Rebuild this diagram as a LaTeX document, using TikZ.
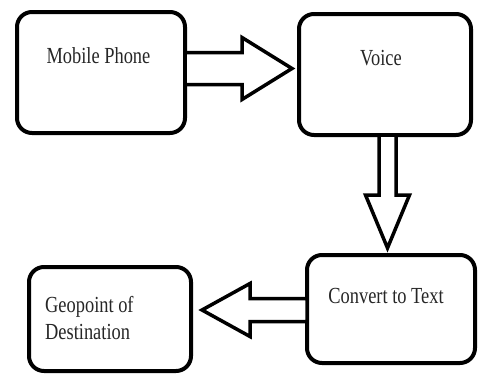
\documentclass[tikz,border=0pt]{standalone}
\usepackage{fontspec}
\setmainfont{Liberation Serif}
\newfontfamily\lblfont{Liberation Serif}[FakeStretch=0.8]
\usetikzlibrary{calc}
\begin{document}
\begin{tikzpicture}[x=1pt,y=-1pt,
  box/.style={draw, line width=4pt, rounded corners=15pt, outer sep=0pt, inner sep=0pt},
  blockarrow/.style={draw, line width=3.5pt, fill=white, line join=miter},
  lbl/.style={font=\lblfont\fontsize{23}{28}\selectfont, text=black!85, inner sep=0pt, anchor=base}]
\useasboundingbox (0,0) rectangle (480,375);
\node[box, minimum width=168pt, minimum height=121pt] (mp) at (101,72.5) {};
\node[box, minimum width=172pt, minimum height=121pt] (voice) at (385,74.5) {};
\node[box, minimum width=168pt, minimum height=108pt] (cvt) at (391,309) {};
\node[box, minimum width=162pt, minimum height=104pt] (geo) at (110,319) {};
\node[lbl] (mpt) at (98.5,63) {Mobile Phone};
\node[lbl] (vt) at (381,65) {Voice};
\node[lbl] (ct) at (386,303) {Convert to Text};
\node[lbl, anchor=base west] (gt1) at (45,312) {Geopoint of};
\node[lbl, anchor=base west] (gt2) at (45,339) {Destination};
% arrow 1
\coordinate (t1) at ($(voice.west)+(-7,-6)$);
\draw[blockarrow] ($(mp.east |- t1)+(0,-16)$) -- ($(t1)+(-50,-16)$) -- ($(t1)+(-50,-31)$) -- (t1)
  -- ($(t1)+(-50,31)$) -- ($(t1)+(-50,16)$) -- ($(mp.east |- t1)+(0,16)$) -- cycle;
% arrow 2
\coordinate (t2) at ($(cvt.north)+(-3.5,-7)$);
\draw[blockarrow] ($(voice.south -| t2)+(-8.5,0)$) -- ($(t2)+(-8.5,-53)$) -- ($(t2)+(-22,-53)$) -- (t2)
  -- ($(t2)+(22,-53)$) -- ($(t2)+(8.5,-53)$) -- ($(voice.south -| t2)+(8.5,0)$) -- cycle;
% arrow 3
\coordinate (t3) at ($(geo.east)+(11,-9)$);
\draw[blockarrow] ($(cvt.west |- t3)+(0,-11.5)$) -- ($(t3)+(48,-11.5)$) -- ($(t3)+(48,-26.5)$) -- (t3)
  -- ($(t3)+(48,26.5)$) -- ($(t3)+(48,11.5)$) -- ($(cvt.west |- t3)+(0,11.5)$) -- cycle;
\end{tikzpicture}
\end{document}
